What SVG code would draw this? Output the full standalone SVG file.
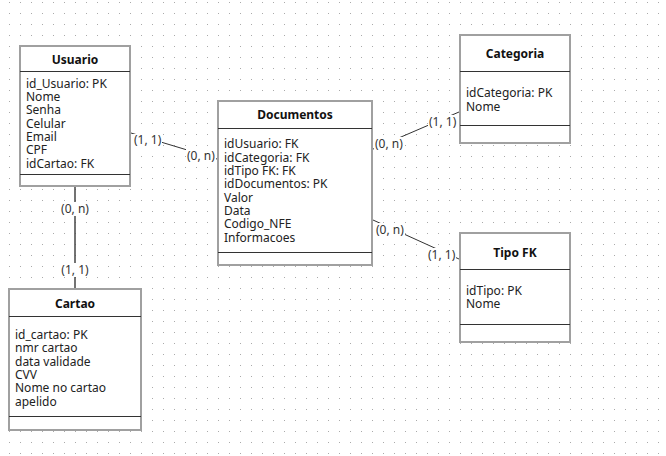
<svg xmlns="http://www.w3.org/2000/svg" width="666" height="456" viewBox="0 0 666 456">
<defs>
<pattern id="dots" x="9" y="2" width="11" height="11" patternUnits="userSpaceOnUse">
<rect x="0" y="0" width="1" height="1" fill="#aaaaaa"/>
</pattern>
</defs>
<style>
.box{fill:#fff;stroke:#a0a0a0;stroke-width:2}
.div{stroke:#333;stroke-width:1}
.hd{font-family:"Noto Sans","DejaVu Sans",sans-serif;font-size:12px;font-weight:bold;fill:#111;text-anchor:middle}
.fd{font-family:"Noto Sans","DejaVu Sans",sans-serif;font-size:12px;fill:#222}
.ln{stroke:#333;stroke-width:1;fill:none}
.lb{font-family:"Noto Sans","DejaVu Sans",sans-serif;font-size:12px;fill:#333}
.lbg{fill:#fff}
</style>
<rect width="666" height="456" fill="#fff"/>
<rect width="666" height="456" fill="url(#dots)"/>

<g id="connectors">
<line class="ln" x1="131" y1="133" x2="217" y2="159"/>
<line class="ln" x1="372" y1="149.5" x2="459" y2="112"/>
<line class="ln" x1="373" y1="220" x2="459" y2="259"/>
<line class="ln" x1="75" y1="187" x2="75" y2="288" style="stroke-width:1.5;stroke:#444"/>
<rect class="lbg" x="133" y="134" width="29" height="14"/>
<text class="lb" x="134" y="144">(1, 1)</text>
<rect class="lbg" x="186" y="149" width="30" height="14"/>
<text class="lb" x="187" y="160">(0, n)</text>
<rect class="lbg" x="374" y="137" width="30" height="14"/>
<text class="lb" x="375" y="148">(0, n)</text>
<rect class="lbg" x="428" y="115" width="29" height="14"/>
<text class="lb" x="429" y="125.5">(1, 1)</text>
<rect class="lbg" x="375" y="223" width="30" height="14"/>
<text class="lb" x="376" y="234">(0, n)</text>
<rect class="lbg" x="427" y="248" width="29" height="14"/>
<text class="lb" x="428" y="259">(1, 1)</text>
<rect class="lbg" x="59" y="202" width="32" height="14"/>
<text class="lb" x="75" y="212.5" text-anchor="middle">(0, n)</text>
<rect class="lbg" x="60" y="263" width="30" height="14"/>
<text class="lb" x="75" y="273.5" text-anchor="middle">(1, 1)</text>
</g>

<g id="usuario">
<rect class="box" x="20" y="46" width="110" height="140"/>
<line class="div" x1="20" y1="71.5" x2="130" y2="71.5"/>
<line class="div" x1="20" y1="174.5" x2="130" y2="174.5"/>
<text class="hd" x="75" y="64">Usuario</text>
<text class="fd" x="26" y="87.7">id_Usuario: PK</text>
<text class="fd" x="26" y="101">Nome</text>
<text class="fd" x="26" y="114.3">Senha</text>
<text class="fd" x="26" y="127.7">Celular</text>
<text class="fd" x="26" y="141">Email</text>
<text class="fd" x="26" y="154.3">CPF</text>
<text class="fd" x="26" y="167.7">idCartao: FK</text>
</g>

<g id="documentos">
<rect class="box" x="218" y="101" width="154" height="164"/>
<line class="div" x1="218" y1="128.5" x2="372" y2="128.5"/>
<line class="div" x1="218" y1="252.5" x2="372" y2="252.5"/>
<text class="hd" x="295" y="119">Documentos</text>
<text class="fd" x="224" y="148.3">idUsuario: FK</text>
<text class="fd" x="224" y="161.7">idCategoria: FK</text>
<text class="fd" x="224" y="175">idTipo FK: FK</text>
<text class="fd" x="224" y="188.3">idDocumentos: PK</text>
<text class="fd" x="224" y="201.7">Valor</text>
<text class="fd" x="224" y="215">Data</text>
<text class="fd" x="224" y="228.3">Codigo_NFE</text>
<text class="fd" x="224" y="241.7">Informacoes</text>
</g>

<g id="categoria">
<rect class="box" x="460" y="35" width="110" height="108"/>
<line class="div" x1="460" y1="71.5" x2="570" y2="71.5"/>
<line class="div" x1="460" y1="125.5" x2="570" y2="125.5"/>
<text class="hd" x="515" y="58.3">Categoria</text>
<text class="fd" x="466" y="97.3">idCategoria: PK</text>
<text class="fd" x="466" y="110.7">Nome</text>
</g>

<g id="cartao">
<rect class="box" x="9" y="289" width="132" height="141"/>
<line class="div" x1="9" y1="316.5" x2="141" y2="316.5"/>
<line class="div" x1="9" y1="416.5" x2="141" y2="416.5"/>
<text class="hd" x="75" y="307.7">Cartao</text>
<text class="fd" x="15" y="339">id_cartao: PK</text>
<text class="fd" x="15" y="352.3">nmr cartao</text>
<text class="fd" x="15" y="365.7">data validade</text>
<text class="fd" x="15" y="379">CVV</text>
<text class="fd" x="15" y="392.3">Nome no cartao</text>
<text class="fd" x="15" y="405.7">apelido</text>
</g>

<g id="tipofk">
<rect class="box" x="460" y="233" width="110" height="109"/>
<line class="div" x1="460" y1="269.5" x2="570" y2="269.5"/>
<line class="div" x1="460" y1="324.5" x2="570" y2="324.5"/>
<text class="hd" x="515" y="256.7">Tipo FK</text>
<text class="fd" x="466" y="295">idTipo: PK</text>
<text class="fd" x="466" y="308.3">Nome</text>
</g>
</svg>
